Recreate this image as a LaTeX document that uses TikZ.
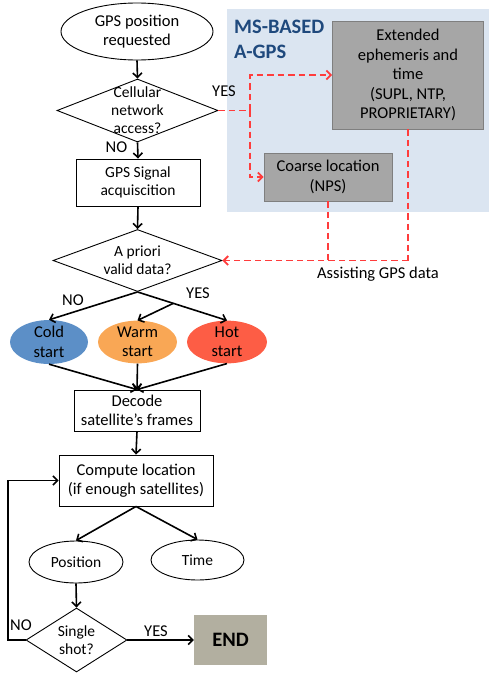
\documentclass[tikz,border=0pt]{standalone}
\usepackage{fontspec}
\setmainfont{Carlito}
\usetikzlibrary{shapes.geometric,arrows.meta}
\definecolor{bgblue}{RGB}{219,229,241}
\definecolor{titleblue}{RGB}{31,73,125}
\definecolor{grayfill}{RGB}{166,166,166}
\definecolor{grayline}{RGB}{127,127,127}
\definecolor{endfill}{RGB}{178,175,160}
\definecolor{coldc}{RGB}{92,143,199}
\definecolor{warmc}{RGB}{249,167,85}
\definecolor{hotc}{RGB}{253,93,69}
\definecolor{dashred}{RGB}{255,60,60}
\tikzset{
  txt/.style={font=\fontsize{16.5}{19.5}\selectfont, align=center},
  stxt/.style={font=\fontsize{15.5}{18}\selectfont, align=center},
  lbl/.style={font=\fontsize{16.5}{19}\selectfont, inner sep=0pt},
  procbox/.style={draw, line width=0.9pt, inner sep=0pt, txt},
  oval/.style={ellipse, inner sep=0pt, txt},
  decide/.style={diamond, draw, line width=0.9pt, inner sep=0pt},
  graybox/.style={draw=grayline, fill=grayfill, line width=0.9pt, inner sep=0pt, txt},
  flow/.style={line width=1.6pt, -{Straight Barb[length=4.5pt,width=9pt]}},
  reddash/.style={dashed, dash pattern=on 6.5pt off 4pt, line width=1.8pt, draw=dashred},
  redflow/.style={reddash, -{Straight Barb[length=4.5pt,width=9pt]}},
}
\begin{document}
\begin{tikzpicture}[x=1pt,y=-1pt]
\useasboundingbox (0,0) rectangle (489,675);
% MS-based A-GPS area
\fill[bgblue] (227,9) rectangle (489,212);
\node[anchor=west, align=left, text=titleblue, font=\fontsize{20.5}{25}\selectfont\bfseries, inner sep=0pt] (msb) at (234,39.5) {MS-BASED\\A-GPS};
\node[graybox, minimum width=151pt, minimum height=108pt] (ext) at (408,75) {Extended\\ephemeris and\\time\\(SUPL, NTP,\\PROPRIETARY)};
\node[graybox, minimum width=128pt, minimum height=48pt] (coarse) at (328,177) {Coarse location\\(NPS)};

% main flow
\node[oval, draw, line width=0.9pt, minimum width=152pt, minimum height=57pt] (start) at (137,31.5) {GPS position\\requested};
\node[decide, minimum width=161pt, minimum height=63pt] (d1) at (137.5,110.5) {};
\node[stxt] (d1t) at (137.5,110.5) {Cellular\\network\\access?};
\node[procbox, stxt, minimum width=124pt, minimum height=47pt] (acq) at (138,182.5) {GPS Signal\\acquiscition};
\node[decide, minimum width=169pt, minimum height=62pt] (d2) at (137.5,260.5) {};
\node[stxt] (d2t) at (137.5,260.5) {A priori\\valid data?};
\node[oval, fill=coldc, minimum width=78pt, minimum height=38pt] (cold) at (49,342) {Cold\\start};
\node[oval, fill=warmc, minimum width=79pt, minimum height=38pt] (warm) at (137.5,342) {Warm\\start};
\node[oval, fill=hotc, minimum width=80pt, minimum height=38pt] (hot) at (227,342) {Hot\\start};
\node[procbox, minimum width=126pt, minimum height=41pt] (dec) at (137,410.5) {Decode\\satellite’s frames};
\node[procbox, minimum width=154pt, minimum height=51pt] (comp) at (136,480.5) {Compute location\\(if enough satellites)};
\node[oval, stxt, draw, line width=0.9pt, minimum width=94pt, minimum height=42pt] (pos) at (76,562) {Position};
\node[oval, stxt, draw, line width=0.9pt, minimum width=93pt, minimum height=40pt] (time) at (197.5,560) {Time};
\node[decide, minimum width=101pt, minimum height=64pt] (d3) at (76.5,640) {};
\node[stxt] (d3t) at (76.5,640) {Single\\shot?};
\node[fill=endfill, minimum width=73pt, minimum height=50pt, inner sep=0pt, font=\fontsize{20.5}{24}\selectfont\bfseries] (endn) at (230.5,640) {END};

% labels
\node[lbl] (l1y) at (224,91) {YES};
\node[lbl] (l1n) at (116.5,147.5) {NO};
\node[lbl] (l2n) at (73,300) {NO};
\node[lbl] (l2y) at (198,293) {YES};
\node[lbl] (l3n) at (21,625) {NO};
\node[lbl] (l3y) at (156,631) {YES};
\node[lbl, anchor=base] (assist) at (378,278) {Assisting GPS data};

% black connectors
\draw[flow] (start.south) -- (d1.north);
\draw[flow] (d1.south) -- (acq.north);
\draw[flow] (acq.south) -- (d2.north);
\draw[flow] (d2.south) -- (cold.north);
\draw[flow] (d2.south) -- coordinate[pos=0.4] (split) (hot.north);
\draw[flow] (split) -- (warm.north);
\draw[flow] (cold.south) -- (dec.north);
\draw[flow] (warm.south) -- (dec.north);
\draw[flow] (hot.south) -- (dec.north);
\draw[flow] (dec.south) -- (comp.north);
\draw[flow] (comp.south) -- (pos.north);
\draw[flow] (comp.south) -- (time.north);
\draw[flow] (pos.south) -- (d3.north);
\draw[flow] (d3.east) -- (endn.west);
\coordinate (loopc) at (8,640);
\draw[flow] (d3.west) -- (loopc) |- (comp.west);

% red dashed connectors
\coordinate (jn) at (250,110.5);
\draw[reddash] (d1.east) -- (jn);
\draw[redflow] (jn) |- (ext.west);
\draw[redflow] (jn) |- (coarse.west);
\draw[reddash] (ext.south) -- (ext.south |- d2.east);
\draw[redflow] (ext.south |- d2.east) -- (d2.east);
\draw[reddash] (coarse.south) -- (coarse.south |- d2.east);
\end{tikzpicture}
\end{document}
